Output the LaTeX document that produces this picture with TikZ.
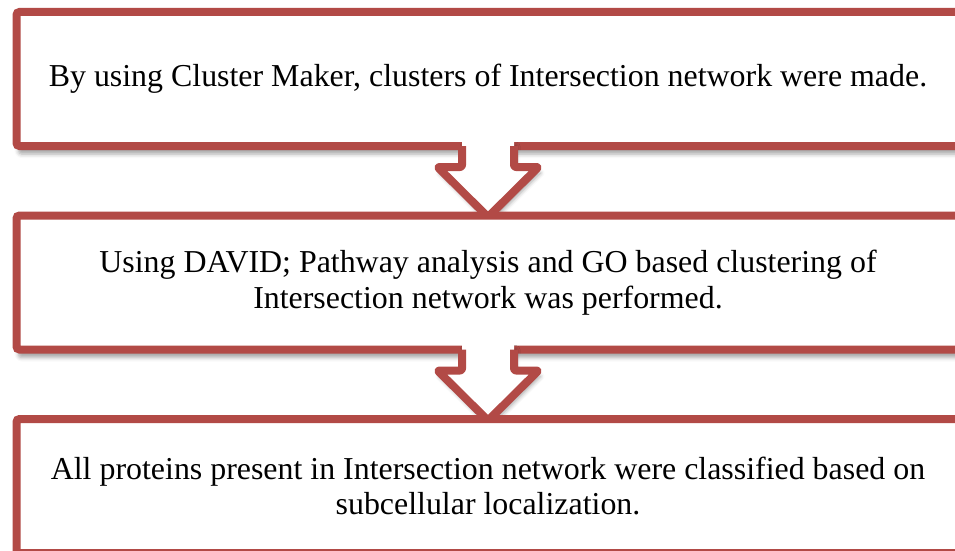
\documentclass[tikz,border=0pt]{standalone}
\usepackage{fontspec}
\setmainfont{Liberation Serif}
\usetikzlibrary{calc,shadows.blur}
\definecolor{boxred}{RGB}{178,74,70}
\tikzset{
  stepbox/.style={draw=boxred, line width=8pt, fill=white, rounded corners=3pt,
    minimum width=943pt, minimum height=134pt, inner sep=0pt, outer sep=0pt,
    align=center, font=\fontsize{31.9}{35.5}\selectfont,
    blur shadow={shadow xshift=2pt, shadow yshift=-8pt, shadow blur radius=4pt, shadow opacity=35}},
  arrowfill/.style={fill=white,
    blur shadow={shadow xshift=2pt, shadow yshift=-6pt, shadow blur radius=4pt, shadow opacity=35}},
  arrowline/.style={draw=boxred, line width=8pt, rounded corners=2pt, line join=round}
}
\begin{document}
\begin{tikzpicture}[x=1pt,y=-1pt]
\useasboundingbox (0,0) rectangle (955,551);
\clip (0,0) rectangle (955,551);
\node[stepbox] (b1) at (488,79) {By using Cluster Maker, clusters of Intersection network were made.};
% arrow 1
\fill[arrowfill] ($(b1.south)+(-26,-6)$) -- ($(b1.south)+(-26,21)$) -- ($(b1.south)+(-50.5,21)$) -- ($(b1.south)+(0,71)$) -- ($(b1.south)+(50.5,21)$) -- ($(b1.south)+(26,21)$) -- ($(b1.south)+(26,-6)$) -- cycle;
\draw[arrowline] ($(b1.south)+(-26,0)$) -- ($(b1.south)+(-26,21)$) -- ($(b1.south)+(-50.5,21)$) -- ($(b1.south)+(0,71)$) -- ($(b1.south)+(50.5,21)$) -- ($(b1.south)+(26,21)$) -- ($(b1.south)+(26,0)$);
\node[stepbox] (b2) at (488,282.5) {Using DAVID; Pathway analysis and GO based clustering of\\Intersection network was performed.};
% arrow 2
\fill[arrowfill] ($(b2.south)+(-26,-6)$) -- ($(b2.south)+(-26,21)$) -- ($(b2.south)+(-50.5,21)$) -- ($(b2.south)+(0,71)$) -- ($(b2.south)+(50.5,21)$) -- ($(b2.south)+(26,21)$) -- ($(b2.south)+(26,-6)$) -- cycle;
\draw[arrowline] ($(b2.south)+(-26,0)$) -- ($(b2.south)+(-26,21)$) -- ($(b2.south)+(-50.5,21)$) -- ($(b2.south)+(0,71)$) -- ($(b2.south)+(50.5,21)$) -- ($(b2.south)+(26,21)$) -- ($(b2.south)+(26,0)$);
\node[stepbox] (b3) at (488,486) {All proteins present in Intersection network were classified based on\\subcellular localization.};
\end{tikzpicture}
\end{document}
